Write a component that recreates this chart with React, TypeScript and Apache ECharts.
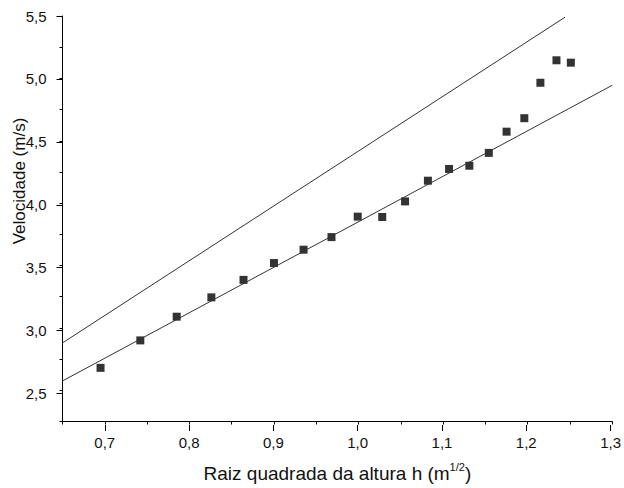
import React, { useEffect, useRef } from 'react';
import * as echarts from 'echarts';

// sqrt(h) in m^(1/2)
const sqrtH = [
  0.695, 0.742, 0.785, 0.826, 0.864, 0.9, 0.935, 0.968, 0.999, 1.028,
  1.055, 1.082, 1.107, 1.131, 1.154, 1.175, 1.196, 1.215, 1.234, 1.251,
];
// velocity in m/s
const velocity = [
  2.68, 2.9, 3.09, 3.245, 3.385, 3.52, 3.627, 3.728, 3.892, 3.889,
  4.014, 4.18, 4.274, 4.3, 4.403, 4.573, 4.681, 4.965, 5.145, 5.126,
];
// theoretical line (upper) and fitted line (lower)
const upperLineX = [0.65, 1.244];
const upperLineY = [2.88, 5.49];
const lowerLineX = [0.65, 1.3];
const lowerLineY = [2.575, 4.945];

const FONT = '"Liberation Sans", Arial, sans-serif';
const fmt = (v: number) => v.toFixed(1).replace('.', ',');

export default function App() {
  const ref = useRef<HTMLDivElement>(null);
  useEffect(() => {
    if (!ref.current) return;
    const chart = echarts.init(ref.current, undefined, { renderer: 'svg' });
    const black = '#000';
    const L = 62.5;
    const R = 11.7;
    const T = 16;
    const B = 63;
    const xPx = 845.5; // px per unit
    const yPx = 125.85;
    chart.setOption({
      animation: false,
      backgroundColor: '#fff',
      grid: [
        { left: L, right: R, top: T, bottom: B },
        { left: L + 0.05 * xPx, right: R, top: T, bottom: B },
        { left: L, right: R, top: T, bottom: B + 0.25 * yPx },
      ],
      xAxis: [
        {
          gridIndex: 0, type: 'value', min: 0.65, max: 1.3, interval: 0.05,
          axisLine: { show: true, onZero: false, lineStyle: { color: black, width: 1 } },
          axisTick: { show: true, length: 3, lineStyle: { color: black, width: 1 } },
          axisLabel: { show: false },
          splitLine: { show: false },
          name: '{a|Raiz quadrada da altura h (m}{s|1/2}{a|)}',
          nameLocation: 'middle',
          nameGap: 40,
          nameTextStyle: {
            fontFamily: FONT, fontSize: 19, color: '#111',
            rich: {
              a: { fontFamily: FONT, fontSize: 19, color: '#111', lineHeight: 24 },
              s: { fontFamily: FONT, fontSize: 11, color: '#111', lineHeight: 12, verticalAlign: 'top' },
            },
          },
        },
        {
          gridIndex: 1, type: 'value', min: 0.7, max: 1.3, interval: 0.1,
          axisLine: { show: false, onZero: false },
          axisTick: { show: true, length: 6, lineStyle: { color: black, width: 1 } },
          axisLabel: { show: true, formatter: fmt, margin: 10, fontFamily: FONT, fontSize: 15, color: '#111' },
          splitLine: { show: false },
        },
        { gridIndex: 2, type: 'value', min: 0.65, max: 1.3, show: false },
      ],
      yAxis: [
        {
          gridIndex: 0, type: 'value', min: 2.25, max: 5.5, interval: 0.25,
          axisLine: { show: true, onZero: false, lineStyle: { color: black, width: 1 } },
          axisTick: { show: true, length: 3, lineStyle: { color: black, width: 1 } },
          axisLabel: { show: false },
          splitLine: { show: false },
        },
        { gridIndex: 1, type: 'value', min: 2.25, max: 5.5, show: false },
        {
          gridIndex: 2, type: 'value', min: 2.5, max: 5.5, interval: 0.5,
          axisLine: { show: false, onZero: false },
          axisTick: { show: true, length: 6, lineStyle: { color: black, width: 1 } },
          axisLabel: { show: true, formatter: fmt, margin: 16, fontFamily: FONT, fontSize: 15, color: '#111' },
          splitLine: { show: false },
        },
      ],
      graphic: [
        {
          type: 'text',
          x: 19,
          y: 181,
          rotation: Math.PI / 2,
          style: {
            text: 'Velocidade (m/s)',
            fontFamily: FONT,
            fontSize: 17,
            fill: '#111',
            textAlign: 'center',
            textVerticalAlign: 'middle',
          },
        },
      ],
      series: [
        {
          type: 'line',
          xAxisIndex: 0, yAxisIndex: 0,
          data: upperLineX.map((x, i) => [x, upperLineY[i]]),
          symbol: 'none',
          lineStyle: { color: '#333', width: 1 },
          silent: true,
        },
        {
          type: 'line',
          xAxisIndex: 0, yAxisIndex: 0,
          data: lowerLineX.map((x, i) => [x, lowerLineY[i]]),
          symbol: 'none',
          lineStyle: { color: '#333', width: 1 },
          silent: true,
        },
        {
          type: 'scatter',
          xAxisIndex: 0, yAxisIndex: 0,
          data: sqrtH.map((x, i) => [x, velocity[i]]),
          symbol: 'rect',
          symbolSize: 8,
          itemStyle: { color: '#000' },
        },
      ],
    });
    return () => chart.dispose();
  }, []);
  return (
    <div
      ref={ref}
      style={{ position: 'fixed', left: 0, top: 0, width: 624, height: 488, background: '#fff' }}
    />
  );
}
